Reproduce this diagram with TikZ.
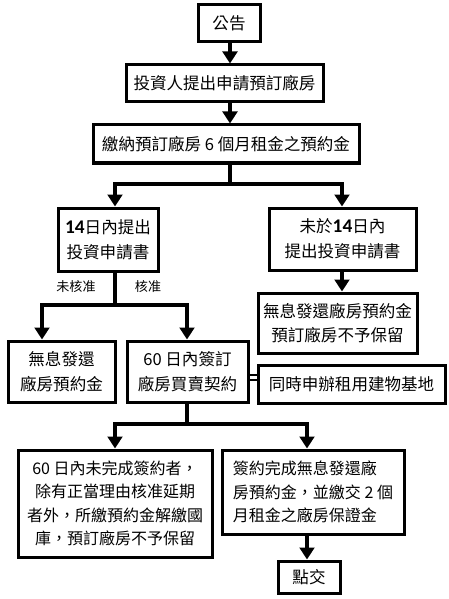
\documentclass[tikz,border=0pt]{standalone}
\usepackage{fontspec}
\setmainfont{Noto Sans CJK TC}
\newfontfamily\carlito{Carlito}
\usetikzlibrary{arrows.meta}
\tikzset{
  box/.style={draw, line width=2.25pt, inner sep=0pt, align=center,
    font=\fontsize{12.4pt}{18.5pt}\selectfont},
  smallbox/.style={box, font=\fontsize{12pt}{17.5pt}\selectfont},
  line/.style={line width=3pt},
  conn/.style={line width=3pt, -{Triangle[length=9pt,width=11pt]}},
  bconn/.style={line width=3pt, {Triangle[length=9pt,width=11pt]}-{Triangle[length=9pt,width=11pt]}},
  lbl/.style={inner sep=0pt, font=\fontsize{9.8pt}{12pt}\selectfont},
}
\newcommand{\bnum}[1]{{\carlito\bfseries\fontsize{14.5pt}{18.5pt}\selectfont #1}}
\begin{document}
\begin{tikzpicture}[x=0.75pt,y=-0.75pt]
\useasboundingbox[fill=white] (0,0) rectangle (449,599);
% nodes
\node[box, minimum width=62*0.75pt, minimum height=37*0.75pt] (b1) at (229,23.5) {公告};
\node[box, minimum width=197*0.75pt, minimum height=37*0.75pt] (b2) at (224.5,83.5) {投資人提出申請預訂廠房};
\node[box, minimum width=266*0.75pt, minimum height=38*0.75pt] (b3) at (226,144) {繳納預訂廠房 6 個月租金之預約金};
\node[box, minimum width=100*0.75pt, minimum height=63*0.75pt] (b4) at (108,239.5) {\bnum{14}日內提出\\投資申請書};
\node[box, minimum width=147*0.75pt, minimum height=62*0.75pt] (b5) at (342.5,239) {未於\bnum{14}日內\\提出投資申請書};
\node[box, minimum width=159*0.75pt, minimum height=60*0.75pt] (b6) at (337.5,323) {無息發還廠房預約金\\預訂廠房不予保留};
\node[box, minimum width=107*0.75pt, minimum height=61*0.75pt] (b7) at (61.5,371.5) {無息發還\\廠房預約金};
\node[box, minimum width=121*0.75pt, minimum height=61*0.75pt] (b8) at (187.5,371.5) {60 日內簽訂\\廠房買賣契約};
\node[box, minimum width=187*0.75pt, minimum height=38*0.75pt] (b9) at (351.5,384) {同時申辦租用建物基地};
\node[smallbox, minimum width=194*0.75pt, minimum height=107*0.75pt] (b10) at (115,503.5) {60 日內未完成簽約者，\\除有正當理由核准延期\\者外，所繳預約金解繳國\\庫，預訂廠房不予保留};
\node[smallbox, align=left, minimum width=182*0.75pt, minimum height=84*0.75pt] (b11) at (313,492) {簽約完成無息發還廠\\房預約金，並繳交 2 個\\月租金之廠房保證金};
\node[box, minimum width=62*0.75pt, minimum height=32*0.75pt] (b12) at (309,577) {點交};
% labels
\node[lbl] (l1) at (76,287) {未核准};
\node[lbl] (l2) at (148,287) {核准};
% junction coordinates
\coordinate (j1) at (230,184);
\coordinate (j1L) at (115,184);
\coordinate (j1R) at (342,184);
\coordinate (j2) at (115,305);
\coordinate (j2L) at (42,305);
\coordinate (j2R) at (187,305);
\coordinate (j3) at (187,424);
\coordinate (j3L) at (115,424);
\coordinate (j3R) at (307,424);
% connectors
\draw[conn] (b1.south -| j1) -- (b2.north -| j1);
\draw[conn] (b2.south -| j1) -- (b3.north -| j1);
\draw[line] (b3.south -| j1) -- (j1);
\draw[bconn] (b4.north -| j1L) -- (j1L) -- (j1R) -- (b5.north -| j1R);
\draw[conn] (b5.south -| j1R) -- (b6.north -| j1R);
\draw[line] (b4.south -| j2) -- (j2);
\draw[bconn] (b7.north -| j2L) -- (j2L) -- (j2R) -- (b8.north -| j2R);
\draw[line] (b8.south -| j3) -- (j3);
\draw[bconn] (b10.north -| j3L) -- (j3L) -- (j3R) -- (b11.north -| j3R);
\draw[conn] (b11.south -| j3R) -- (b12.north -| j3R);
\draw[line width=0.9pt] (b8.east |- 0,375) -- (b9.west |- 0,375);
\draw[line width=0.9pt] (b8.east |- 0,380) -- (b9.west |- 0,380);
\end{tikzpicture}
\end{document}
